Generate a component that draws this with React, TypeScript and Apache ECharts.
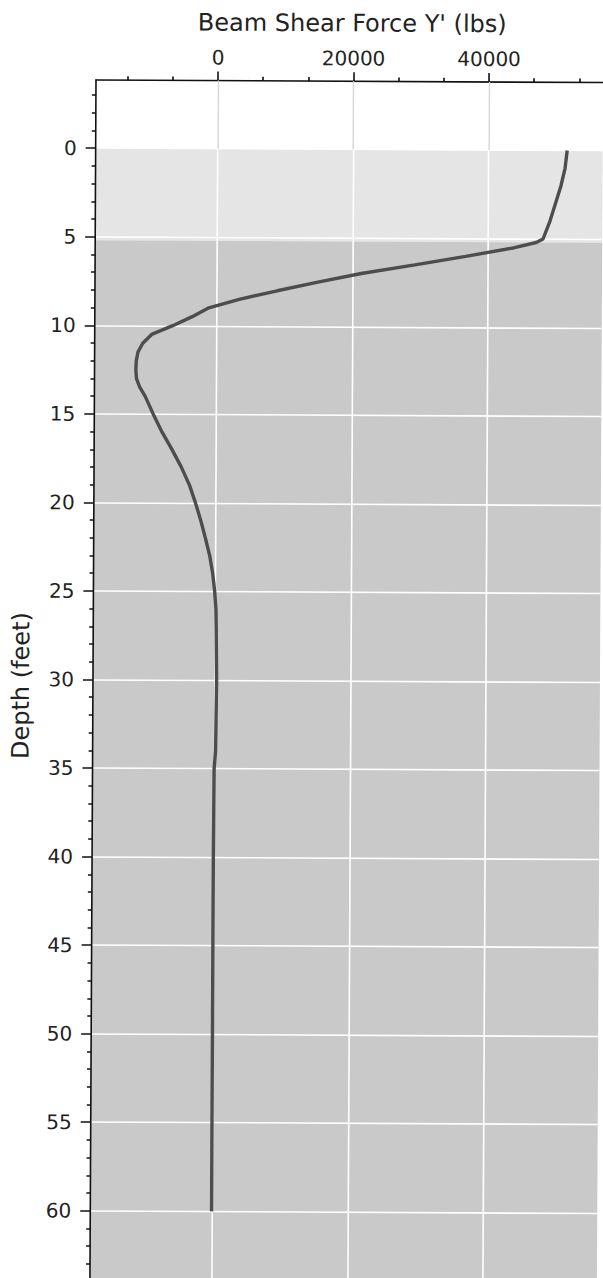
import React, { useEffect, useRef } from "react";
import * as echarts from "echarts";

// ---- data ----
const DEPTH_FT = [0, 1, 2, 3, 4, 5, 5.2, 5.5, 6, 6.5, 7, 7.5, 8, 8.5, 9, 9.5, 10, 10.5, 11, 11.5, 12, 12.5, 13, 13.5, 14, 15, 16, 17, 18, 19, 20, 21, 22, 23, 24, 25, 26, 27, 30, 34, 35, 40, 45, 50, 55, 60];
const SHEAR_LBS = [51600, 51300, 50700, 49900, 49100, 48100, 47100, 43900, 36700, 29200, 21300, 14900, 8900, 3300, -1300, -3700, -6500, -9600, -10900, -11600, -11850, -11900, -11800, -11300, -10500, -9300, -8000, -6500, -5100, -3900, -3000, -2200, -1500, -850, -400, -100, 100, 150, 250, 150, -50, -100, -100, -100, -100, -100];

const X_LABELS = [0, 20000, 40000];
const X_MAJOR = [0, 20000, 40000, 60000];
const Y_LABELS = [0, 5, 10, 15, 20, 25, 30, 35, 40, 45, 50, 55, 60];
const Y_MAJOR = [0, 5, 10, 15, 20, 25, 30, 35, 40, 45, 50, 55, 60, 65];

const LAYER_TOP_FT = [0, 5.2];
const LAYER_BOTTOM_FT = [5.2, 66];
const LAYER_COLORS = ["#e5e5e5", "#c9c9c9"];

const X_MIN = -18000;
const X_MAX = 70000;
const Y_MIN = -3.85;
const Y_MAX = 66;

const X_TITLE = "Beam Shear Force Y' (lbs)";
const Y_TITLE = "Depth (feet)";

// minor tick positions (thirds of the 20000 step, every foot)
const X_MINOR = [-13333, -6667, 6667, 13333, 26667, 33333, 46667, 53333, 66667];
const Y_MINOR: number[] = [];
for (let d = -3; d <= 65; d++) if (d % 5 !== 0) Y_MINOR.push(d);

const FONT = "DejaVu Sans";

export default function App() {
  const ref = useRef<HTMLDivElement>(null);

  useEffect(() => {
    if (!ref.current) return;
    const chart = echarts.init(ref.current, undefined, { renderer: "svg" });

    const gridW = ((X_MAX - X_MIN) / 20000) * 135.5;
    const gridH = (Y_MAX - Y_MIN) * 17.71;

    const axisLineStyle = { color: "#111", width: 1.6 };

    chart.setOption({
      animation: false,
      backgroundColor: "#ffffff",
      grid: {
        left: 96,
        top: 80,
        width: gridW,
        height: gridH,
        containLabel: false,
        outerBoundsMode: "none",
      },
      xAxis: [
        {
          type: "value",
          position: "top",
          min: X_MIN,
          max: X_MAX,
          z: 2,
          axisLine: { show: true, onZero: false, lineStyle: axisLineStyle },
          axisTick: { show: true, customValues: X_MAJOR, length: 9, lineStyle: axisLineStyle },
          axisLabel: {
            show: true,
            customValues: X_LABELS,
            margin: 13,
            fontSize: 20,
            fontFamily: FONT,
            color: "#222",
            formatter: (v: number) => String(v),
          },
          splitLine: { show: true, lineStyle: { color: "#ffffff", width: 1.6 } },
        },
        {
          type: "value",
          position: "top",
          min: X_MIN,
          max: X_MAX,
          z: 2,
          axisLine: { show: false, onZero: false },
          axisTick: { show: true, customValues: X_MINOR, length: 4, lineStyle: axisLineStyle },
          axisLabel: { show: false },
          splitLine: { show: false },
        },
      ],
      yAxis: [
        {
          type: "value",
          position: "left",
          inverse: true,
          min: Y_MIN,
          max: Y_MAX,
          z: 2,
          axisLine: { show: true, onZero: false, lineStyle: axisLineStyle },
          axisTick: { show: true, customValues: Y_MAJOR, length: 10, lineStyle: axisLineStyle },
          axisLabel: {
            show: true,
            customValues: Y_LABELS,
            margin: 19,
            fontSize: 20,
            fontFamily: FONT,
            color: "#222",
            formatter: (v: number) => String(v),
          },
          splitLine: { show: true, lineStyle: { color: "#ffffff", width: 1.6 } },
        },
        {
          type: "value",
          position: "left",
          inverse: true,
          min: Y_MIN,
          max: Y_MAX,
          z: 2,
          axisLine: { show: false, onZero: false },
          axisTick: { show: true, customValues: Y_MINOR, length: 4, lineStyle: axisLineStyle },
          axisLabel: { show: false },
          splitLine: { show: false },
        },
      ],
      graphic: [
        {
          type: "text",
          x: 352,
          y: 22,
          style: {
            text: X_TITLE,
            fontSize: 24,
            fontFamily: FONT,
            fill: "#222",
            align: "center",
            verticalAlign: "middle",
          },
        },
        {
          type: "text",
          x: 24,
          y: 686,
          rotation: Math.PI / 2,
          style: {
            text: Y_TITLE,
            fontSize: 24,
            fontFamily: FONT,
            fill: "#222",
            align: "center",
            verticalAlign: "middle",
          },
        },
      ],
      series: [
        {
          name: "layers",
          type: "line",
          xAxisIndex: 0,
          yAxisIndex: 0,
          data: [],
          z: 1,
          silent: true,
          markArea: {
            silent: true,
            data: LAYER_TOP_FT.map((top, i) => [
              { yAxis: top, itemStyle: { color: LAYER_COLORS[i] } },
              { yAxis: LAYER_BOTTOM_FT[i] },
            ]),
          },
        },
        {
          name: "upper grid",
          type: "line",
          xAxisIndex: 0,
          yAxisIndex: 0,
          data: [],
          z: 3,
          silent: true,
          markLine: {
            silent: true,
            symbol: ["none", "none"],
            label: { show: false },
            lineStyle: { color: "#d6d6d6", width: 1.4, type: "solid" },
            data: X_MAJOR.map((x) => [{ coord: [x, Y_MIN] }, { coord: [x, 0] }]),
          },
        },
        {
          name: "Beam Shear Force Y'",
          type: "line",
          xAxisIndex: 0,
          yAxisIndex: 0,
          z: 5,
          showSymbol: false,
          symbol: "none",
          smooth: false,
          lineStyle: { color: "#4d4d4d", width: 3.4 },
          data: DEPTH_FT.map((d, i) => [SHEAR_LBS[i], d]),
        },
      ],
    });

    return () => chart.dispose();
  }, []);

  return (
    <div
      style={{
        position: "fixed",
        left: 0,
        top: 0,
        width: 603,
        height: 1278,
        overflow: "hidden",
        background: "#ffffff",
      }}
    >
      <div
        ref={ref}
        style={{
          width: 603,
          height: 1278,
          transform: "rotate(0.29deg)",
          transformOrigin: "96px 80px",
        }}
      />
    </div>
  );
}
